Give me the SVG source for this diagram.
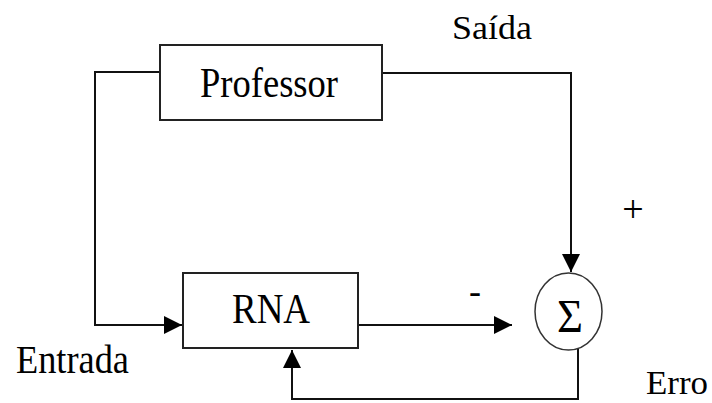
<svg xmlns="http://www.w3.org/2000/svg" width="712" height="403" viewBox="0 0 712 403">
  <style>
    .box { fill: #fff; stroke: #222; stroke-width: 2; }
    .sum { fill: #fff; stroke: #333; stroke-width: 1.5; }
    .wire { fill: none; stroke: #111; stroke-width: 2; }
    .lbl { font-family: "Liberation Serif", "Times New Roman", serif; fill: #000; }
  </style>
  <defs>
    <marker id="arrow" markerUnits="userSpaceOnUse" markerWidth="18" markerHeight="18" refX="18" refY="9" orient="auto">
      <path d="M0,0 L18,9 L0,18 z" fill="#000"/>
    </marker>
  </defs>

  <g id="connectors">
    <!-- input split: around Professor into RNA -->
    <polyline class="wire" points="160,72 95,72 95,325 182,325" marker-end="url(#arrow)"/>
    <!-- Professor output down to summing junction -->
    <polyline class="wire" points="382,73 571,73 571,272" marker-end="url(#arrow)"/>
    <!-- RNA output into summing junction -->
    <line class="wire" x1="358" y1="325" x2="512" y2="325" marker-end="url(#arrow)"/>
    <!-- error feedback back into RNA -->
    <polyline class="wire" points="578,348 578,399 292,399 292,350" marker-end="url(#arrow)"/>
  </g>

  <g id="professor">
    <rect class="box" x="160" y="45" width="222" height="75"/>
    <text class="lbl" x="200" y="97" font-size="42" textLength="138" lengthAdjust="spacingAndGlyphs">Professor</text>
  </g>

  <g id="rna">
    <rect class="box" x="183" y="273" width="175" height="75"/>
    <text class="lbl" x="232" y="323" font-size="42" textLength="78" lengthAdjust="spacingAndGlyphs">RNA</text>
  </g>

  <g id="somador">
    <ellipse class="sum" cx="568.5" cy="311.5" rx="33.5" ry="38.5"/>
    <text class="lbl" x="557" y="332" font-size="46" textLength="26" lengthAdjust="spacingAndGlyphs">Σ</text>
  </g>

  <g id="labels">
    <text class="lbl" x="646" y="394" font-size="34" textLength="62" lengthAdjust="spacingAndGlyphs">Erro</text>
    <text class="lbl" x="452" y="39" font-size="34" textLength="80" lengthAdjust="spacingAndGlyphs">Saída</text>
    <text class="lbl" x="16" y="373" font-size="40" textLength="113" lengthAdjust="spacingAndGlyphs">Entrada</text>
    <text class="lbl" x="633" y="222" font-size="38" text-anchor="middle">+</text>
    <text class="lbl" x="475" y="303" font-size="36" text-anchor="middle">-</text>
  </g>
</svg>
